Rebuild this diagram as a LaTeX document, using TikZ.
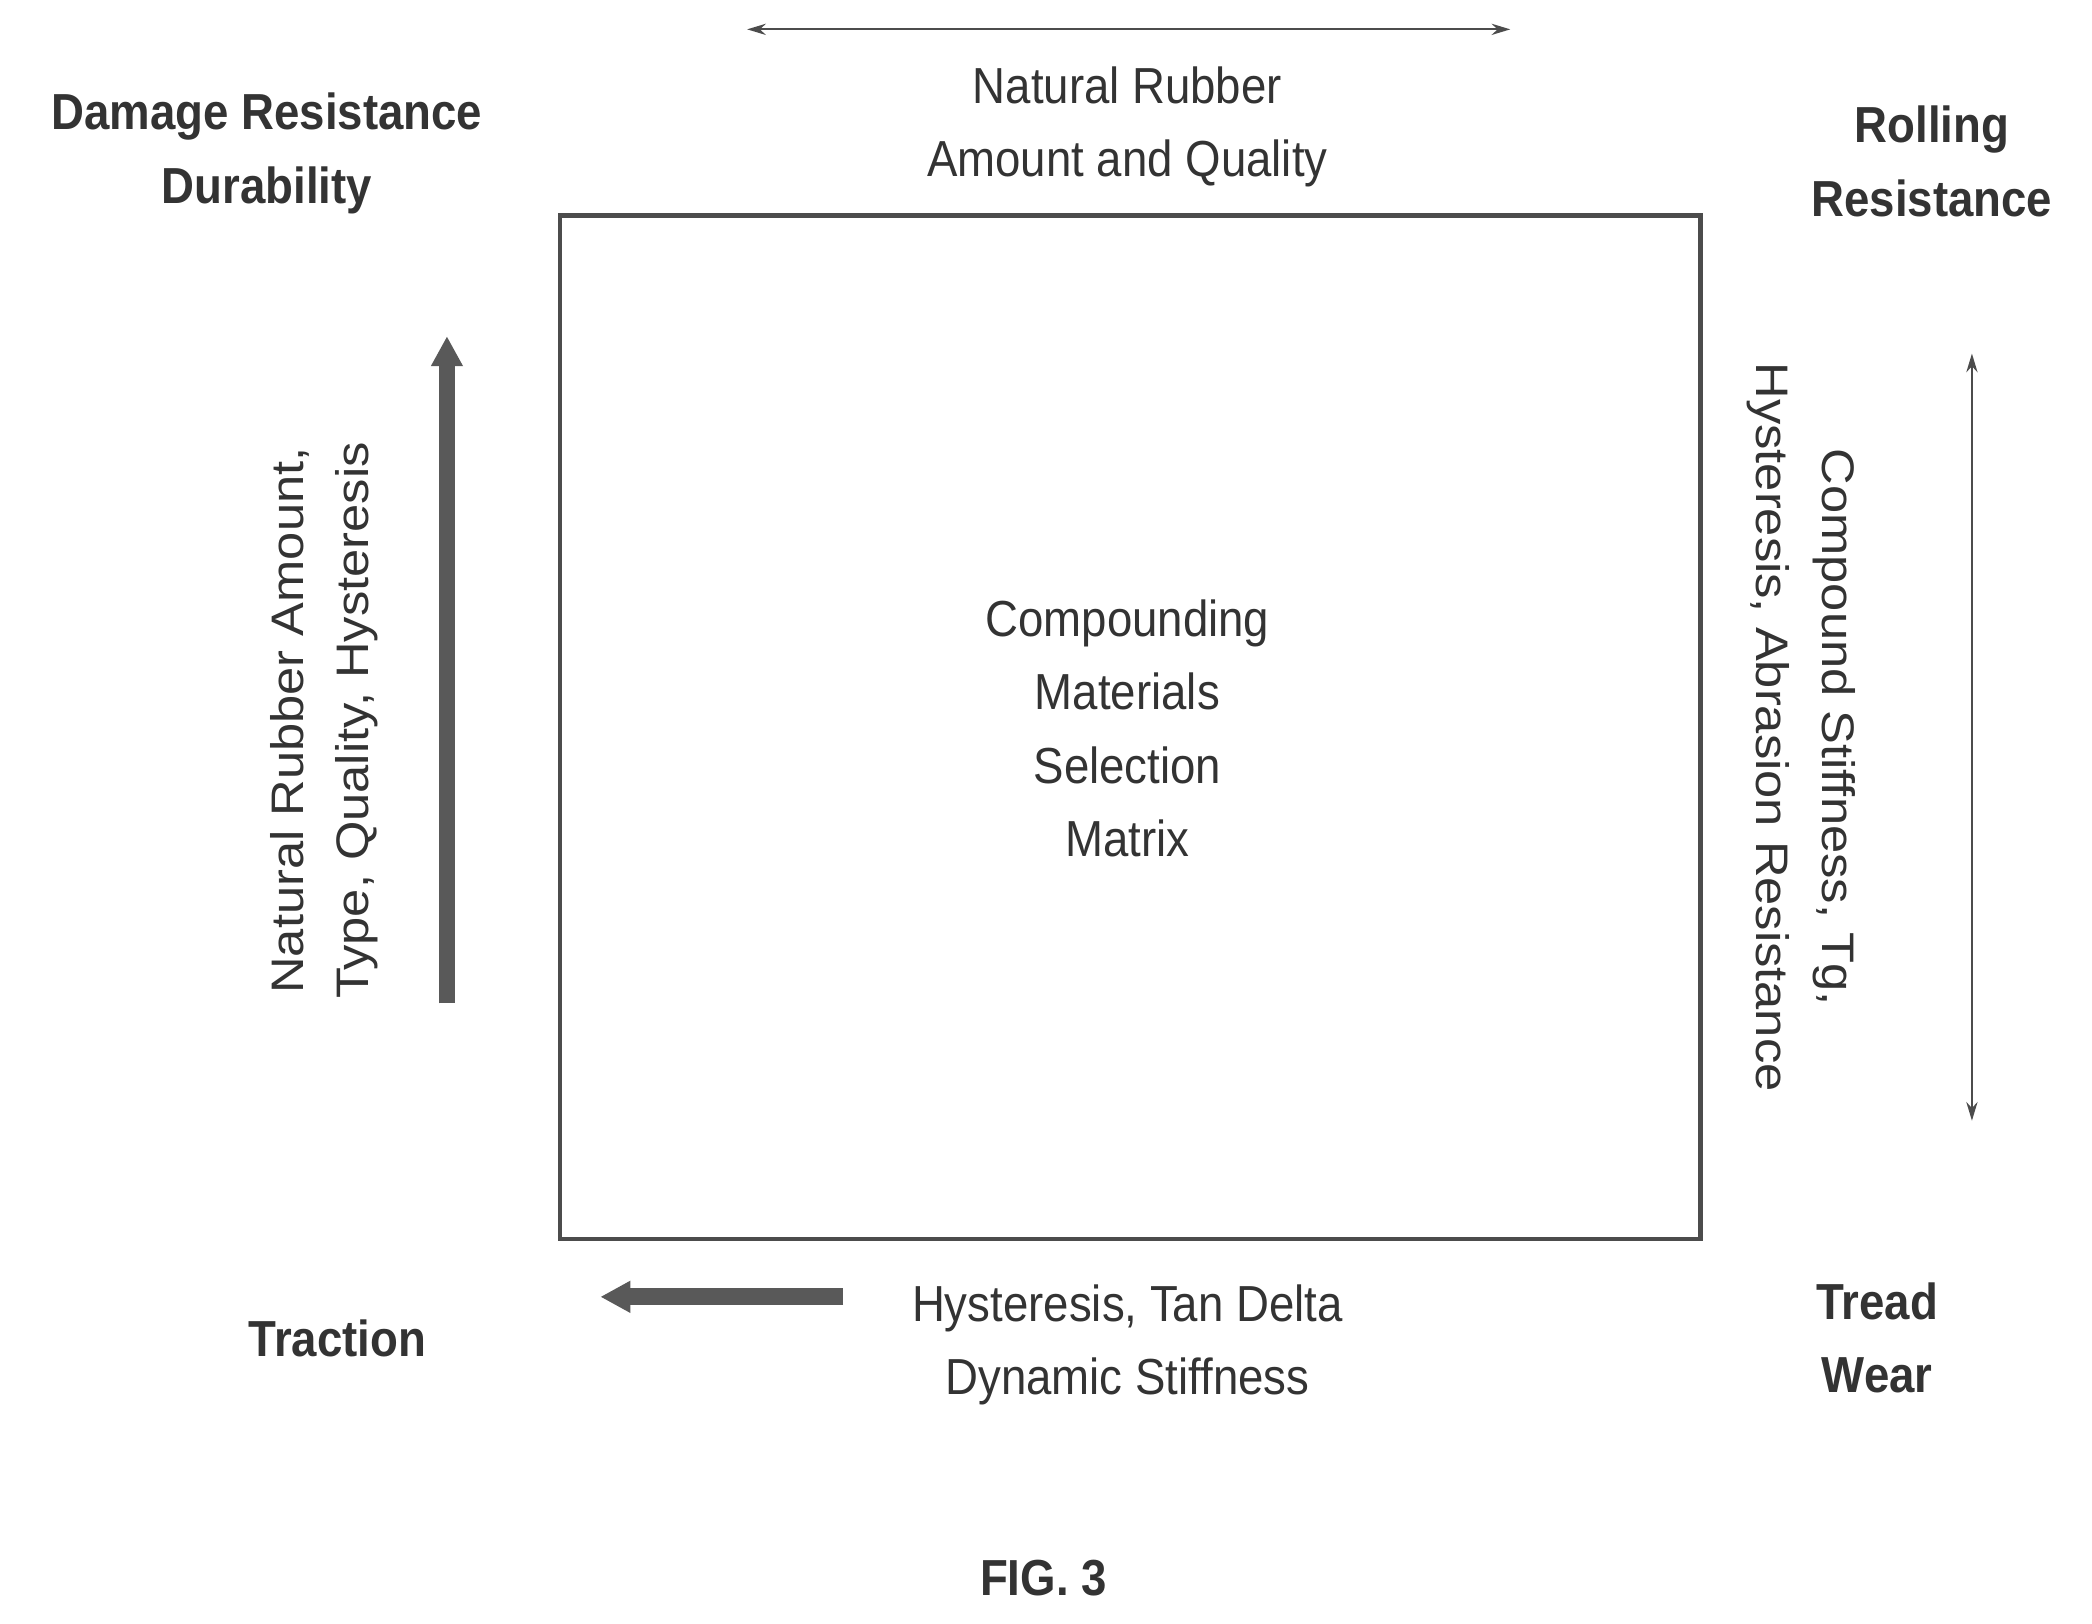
\documentclass[tikz,border=0pt]{standalone}
\usepackage{fontspec}
\setmainfont{Liberation Sans}
\usetikzlibrary{arrows.meta}
\begin{document}
\begin{tikzpicture}[x=0.025cm,y=-0.025cm,
  lbl/.style={font=\fontsize{27}{39}\selectfont, align=center, text=black!80, xscale=0.9},
  bld/.style={font=\fontsize{27}{39}\selectfont\bfseries, align=center, text=black!80, xscale=0.9},
  thin/.style={draw=black!70, line width=1pt, {Stealth[length=10pt,width=6pt]}-{Stealth[length=10pt,width=6pt]}},
  thick arrow/.style={draw=black!65, line width=9pt, -{Triangle[length=16pt,width=16pt]}}]
\useasboundingbox (0,0) rectangle (1568,1217);
\node[draw=black!70, line width=2.2pt, minimum width=855*0.025cm, minimum height=767*0.025cm, anchor=north west] (box) at (418,160) {};
\coordinate (t1) at (560,22); \coordinate (t2) at (1132,22);
\draw[thin] (t1) -- (t2);
\node[lbl] (top) at (845,95) {Natural Rubber\\Amount and Quality};
\node[bld] (dr) at (200,115) {Damage Resistance\\Durability};
\node[bld] (rr) at (1448,121) {Rolling\\Resistance};
\node[bld] (tr) at (253,1003) {Traction};
\node[bld] (tw) at (1407,1003) {Tread\\Wear};
\node[bld] (fig) at (782,1183) {FIG. 3};
\node[lbl, rotate=90] (left) at (243,540) {Natural Rubber Amount,\\Type, Quality, Hysteresis};
\coordinate (u1) at (335,752); \coordinate (u2) at (335,252);
\draw[thick arrow] (u1) -- (u2);
\node[lbl, rotate=-90] (right) at (1350,545) {Compound Stiffness, Tg,\\Hysteresis, Abrasion Resistance};
\coordinate (r1) at (1478,265); \coordinate (r2) at (1478,840);
\draw[thin] (r1) -- (r2);
\node[lbl] (center) at (845,546) {Compounding\\Materials\\Selection\\Matrix};
\coordinate (b1) at (632,972); \coordinate (b2) at (450,972);
\draw[thick arrow] (b1) -- (b2);
\node[lbl] (bot) at (845,1008) {Hysteresis, Tan Delta\\Dynamic Stiffness};
\end{tikzpicture}
\end{document}
